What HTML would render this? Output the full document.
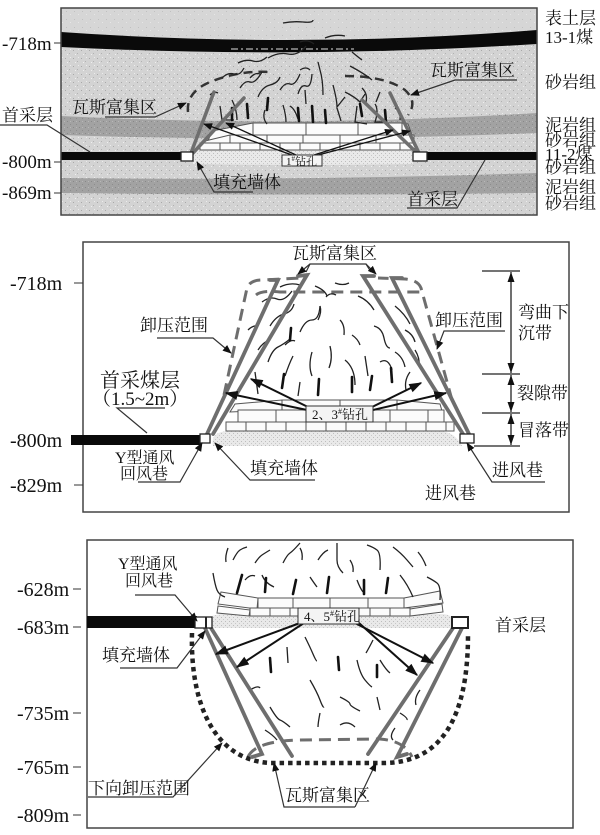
<!DOCTYPE html>
<html><head><meta charset="utf-8"><style>
html,body{margin:0;padding:0;background:#fff;}
svg{display:block;}
text{font-family:"Liberation Serif","Noto Serif CJK SC",serif;fill:#111;}
</style></head><body>
<svg width="600" height="835" viewBox="0 0 600 835" xmlns="http://www.w3.org/2000/svg">
<defs>
<pattern id="sand" width="8" height="8" patternUnits="userSpaceOnUse"><rect width="8" height="8" fill="#d3d3d3"/><rect x="1" y="2" width="1" height="1" fill="#a8a8a8"/><rect x="5" y="5" width="1" height="1" fill="#b2b2b2"/><rect x="3" y="6" width="1" height="1" fill="#efefef"/><rect x="6" y="1" width="1" height="1" fill="#ececec"/></pattern>
<pattern id="soil" width="8" height="8" patternUnits="userSpaceOnUse"><rect width="8" height="8" fill="#d6d6d6"/><rect x="2" y="3" width="1" height="1" fill="#c0c0c0"/><rect x="6" y="6" width="1" height="1" fill="#e6e6e6"/></pattern>
<pattern id="mud" width="6" height="6" patternUnits="userSpaceOnUse"><rect width="6" height="6" fill="#a2a2a2"/><rect x="1" y="1" width="1" height="1" fill="#888"/><rect x="4" y="4" width="1" height="1" fill="#8d8d8d"/><rect x="4" y="1" width="1" height="1" fill="#b8b8b8"/></pattern>
<pattern id="fill" width="4" height="4" patternUnits="userSpaceOnUse"><rect width="4" height="4" fill="#e9e9e9"/><rect x="1" y="1" width="1" height="1" fill="#bdbdbd"/><rect x="3" y="3" width="1" height="1" fill="#c8c8c8"/></pattern>
<marker id="ah" viewBox="0 0 10 10" refX="9" refY="5" markerWidth="9" markerHeight="9" markerUnits="userSpaceOnUse" orient="auto"><path d="M0,1 L10,5 L0,9 z" fill="#111"/></marker>
<marker id="ab" viewBox="0 0 10 10" refX="9" refY="5" markerWidth="13" markerHeight="13" markerUnits="userSpaceOnUse" orient="auto"><path d="M0,1.5 L10,5 L0,8.5 z" fill="#111"/></marker>
<marker id="dim" viewBox="0 0 10 10" refX="10" refY="5" markerWidth="10" markerHeight="10" markerUnits="userSpaceOnUse" orient="auto-start-reverse"><path d="M0,1.5 L10,5 L0,8.5 z" fill="#111"/></marker>
<clipPath id="c1"><rect x="61" y="8" width="476" height="207"/></clipPath>
</defs>

<!-- ============ TOP PANEL ============ -->
<g clip-path="url(#c1)">
<rect x="61" y="8" width="476" height="207" fill="url(#sand)"/>
<path d="M61,8 L537,8 L537,30 Q300,49 61,32 Z" fill="url(#soil)"/>
<path d="M61,32 Q300,49 537,30 L537,44 Q300,59 61,47 Z" fill="#0a0a0a"/>
<path d="M231,49 L354,49" stroke="#ddd" stroke-width="1" stroke-dasharray="7 3 2 3"/>
<path d="M61,116 Q300,128 537,113 L537,133 Q300,143 61,135 Z" fill="url(#mud)"/>
<path d="M61,178 Q300,181 537,173 L537,193 Q300,196 61,193 Z" fill="url(#mud)"/>
<rect x="61" y="152" width="122" height="8" fill="#0a0a0a"/>
<rect x="427" y="152" width="110" height="8" fill="#0a0a0a"/>
<path d="M193,150 L413,150 L413,164 Q300,166 193,164 Z" fill="url(#fill)"/>
</g>
<rect x="61" y="8" width="476" height="207" fill="none" stroke="#444" stroke-width="1.5"/>
<!-- bricks top -->
<g fill="#fbfbfb" stroke="#555" stroke-width="1">
<polygon points="212,131 253,123 253,135 208,141"/>
<rect x="253" y="123" width="53" height="12"/><rect x="306" y="123" width="52" height="12"/><rect x="358" y="123" width="44" height="12"/>
<polygon points="402,123 408,124 412,135 402,135"/>
<polygon points="205,141 230,135 230,143 202,146"/>
<rect x="230" y="135" width="37" height="8"/><rect x="267" y="135" width="36" height="8"/><rect x="303" y="135" width="37" height="8"/><rect x="340" y="135" width="36" height="8"/><rect x="376" y="135" width="38" height="8"/>
<rect x="200" y="143" width="20" height="7"/><rect x="220" y="143" width="20" height="7"/><rect x="240" y="143" width="20" height="7"/><rect x="260" y="143" width="20" height="7"/><rect x="280" y="143" width="20" height="7"/><rect x="300" y="143" width="20" height="7"/><rect x="320" y="143" width="20" height="7"/><rect x="340" y="143" width="20" height="7"/><rect x="360" y="143" width="20" height="7"/><rect x="380" y="143" width="20" height="7"/><rect x="400" y="143" width="15" height="7"/>
</g>
<!-- dashed dome top -->
<path d="M188,112 Q186,92 210,82 Q240,70 270,72" fill="none" stroke="#333" stroke-width="2.5" stroke-dasharray="9 6"/>
<path d="M345,76 Q385,76 405,90 Q418,102 408,115" fill="none" stroke="#333" stroke-width="2.5" stroke-dasharray="9 6"/>
<!-- cracks top -->
<g fill="none" stroke="#222" stroke-width="1.3">
<path d="M222,78 q6,-6 12,-4 t10,-6"/><path d="M240,88 q5,-8 10,-6 t12,-10"/><path d="M258,97 q4,-10 12,-12 t10,-8"/><path d="M280,90 q5,-8 10,-6 t10,-10"/><path d="M298,94 q3,-10 8,-8 t6,-12"/>
<path d="M318,62 l2,8 q3,10 3,25"/><path d="M305,90 l1,14"/><path d="M333,85 q4,15 4,22 l8,-10"/><path d="M345,92 q10,5 15,10 l5,-8"/><path d="M350,66 q15,8 22,14"/>
<path d="M220,106 l2,14 l12,0"/><path d="M232,100 q5,10 5,20"/><path d="M283,105 q3,10 3,17"/><path d="M290,106 q5,3 8,13"/><path d="M337,108 l4,13"/><path d="M357,106 l-2,16 l12,2"/><path d="M375,104 q4,6 0,18 l12,0"/><path d="M395,108 q6,4 5,12"/>
<path d="M268,58 q10,-6 20,-4 t18,-8"/><path d="M300,42 q8,-3 14,2"/><path d="M325,38 q10,-4 20,-2"/><path d="M238,63 q8,-4 15,-2 t14,-4"/><path d="M283,23 q10,-2 20,-1 t10,-2"/><path d="M352,52 q6,5 10,8"/><path d="M265,110 q-3,8 2,14"/>
<path d="M250,78 q5,-6 10,-4"/><path d="M362,88 q6,6 4,14"/><path d="M380,92 l-4,10"/><path d="M210,95 q4,-4 8,-2"/><path d="M300,70 q6,-4 10,0"/>
</g>
<g stroke="#111" stroke-width="2.6" stroke-linecap="round">
<path d="M247,104 l1,14"/><path d="M268,98 l-1,12"/><path d="M312,106 l1,16"/><path d="M325,110 l1,13"/><path d="M360,104 l2,12"/><path d="M385,110 l1,12"/><path d="M232,108 l0,12"/><path d="M298,108 l1,13"/>
</g>
<!-- drill lines top -->
<g stroke="#6e6e6e" stroke-width="3.5" stroke-linecap="round">
<path d="M191,153 L214,92"/><path d="M193,153 L244,98"/><path d="M417,153 L362,100"/><path d="M419,153 L390,93"/>
</g>
<g stroke="#111" stroke-width="1.3" fill="none">
<path d="M292,155 L204,124" marker-end="url(#ah)"/><path d="M296,155 L226,123" marker-end="url(#ah)"/>
<path d="M314,155 L393,130" marker-end="url(#ah)"/><path d="M318,155 L410,131" marker-end="url(#ah)"/>
</g>
<rect x="181" y="152" width="12" height="9" fill="#fff" stroke="#222" stroke-width="1.3"/>
<rect x="413" y="152" width="14" height="9" fill="#fff" stroke="#222" stroke-width="1.3"/>
<rect x="282" y="155" width="40" height="11" fill="#f4f4f4" stroke="#333" stroke-width="1"/>
<text x="286" y="165" font-size="11">1<tspan font-size="7" dy="-4">#</tspan><tspan dy="4">钻孔</tspan></text>
<!-- top labels -->
<g font-size="19">
<text x="2" y="50">-718m</text><text x="2" y="168">-800m</text><text x="2" y="199">-869m</text>
</g>
<g stroke="#333" stroke-width="1"><path d="M54,43 H61"/><path d="M54,162 H61"/><path d="M54,193 H61"/></g>
<g font-size="17">
<text x="545" y="24">表土层</text><text x="545" y="43">13-1煤</text><text x="545" y="88">砂岩组</text>
<text x="545" y="131">泥岩组</text><text x="545" y="146">砂岩组</text><text x="545" y="160">11-2煤</text><text x="545" y="173">砂岩组</text><text x="545" y="193">泥岩组</text><text x="545" y="209">砂岩组</text>
<text x="72" y="113">瓦斯富集区</text><text x="430" y="76">瓦斯富集区</text>
<text x="2" y="121">首采层</text><text x="213" y="188">填充墙体</text><text x="407" y="205">首采层</text>
</g>
<g stroke="#333" stroke-width="1.2" fill="none">
<path d="M105,117 L155,117 L186,103" marker-end="url(#ah)"/>
<path d="M517,80 L455,80 L411,95" marker-end="url(#ah)"/>
<path d="M0,125 L47,125 L90,152"/>
<path d="M253,192 L214,192 L197,162" marker-end="url(#ah)"/>
<path d="M407,208 L457,208 L485,160"/>
</g>

<!-- ============ MIDDLE PANEL ============ -->
<rect x="83" y="242" width="486" height="270" fill="#fff" stroke="#444" stroke-width="1.5"/>
<rect x="71" y="435" width="131" height="10" fill="#0a0a0a"/>
<path d="M213,446 Q210,432 228,431 L440,431 Q455,432 462,446 Z" fill="url(#fill)"/>
<!-- bricks mid -->
<g fill="#fbfbfb" stroke="#555" stroke-width="1">
<polygon points="235,404 282,400 282,410 230,412"/>
<rect x="282" y="400" width="58" height="10"/><rect x="340" y="400" width="57" height="10"/>
<polygon points="397,400 440,404 442,411 397,410"/>
<rect x="238" y="410" width="38" height="12"/><rect x="276" y="410" width="38" height="12"/><rect x="314" y="410" width="38" height="12"/><rect x="352" y="410" width="38" height="12"/><rect x="390" y="410" width="38" height="12"/><rect x="428" y="410" width="16" height="12"/>
<rect x="226" y="422" width="20" height="9"/><rect x="246" y="422" width="20" height="9"/><rect x="266" y="422" width="20" height="9"/><rect x="286" y="422" width="20" height="9"/><rect x="306" y="422" width="20" height="9"/><rect x="326" y="422" width="20" height="9"/><rect x="346" y="422" width="20" height="9"/><rect x="366" y="422" width="20" height="9"/><rect x="386" y="422" width="20" height="9"/><rect x="406" y="422" width="20" height="9"/><rect x="426" y="422" width="20" height="9"/><rect x="446" y="422" width="8" height="9"/>
</g>
<!-- dashed envelope mid -->
<g fill="none" stroke="#6e6e6e" stroke-width="3" stroke-dasharray="12 7">
<path d="M224,395 L247,288 Q250,280 262,280 L300,278"/>
<path d="M452,400 L421,288 Q418,280 405,279 L378,278"/>
<path d="M256,295 Q262,290 280,292 L420,292"/>
</g>
<!-- cracks mid -->
<g fill="none" stroke="#222" stroke-width="1.3">
<path d="M262,302 q8,-6 15,-3 t15,-8"/><path d="M280,287 q10,-5 20,-2"/><path d="M315,286 q10,4 12,10"/><path d="M335,283 q8,3 14,0"/>
<path d="M270,326 q6,-10 14,-12 t10,-10"/><path d="M300,332 q5,-12 12,-12 t8,-14"/><path d="M320,306 q2,6 -2,14"/><path d="M326,297 q4,-5 10,-2"/><path d="M340,320 q5,5 4,15"/><path d="M358,296 q10,4 16,14"/><path d="M374,326 q8,2 10,12 t6,10"/><path d="M395,306 q10,8 15,18"/>
<path d="M268,362 q4,-12 10,-15 t12,-8"/><path d="M285,376 q4,-12 8,-20"/><path d="M312,352 q-4,14 0,24"/><path d="M330,346 q3,12 -1,22"/><path d="M345,360 q10,8 10,25"/><path d="M365,356 l3,20"/><path d="M380,362 q8,-5 12,8"/><path d="M395,352 q8,5 10,15"/><path d="M410,372 q-6,8 -4,18"/><path d="M255,372 l3,22"/><path d="M300,382 l-2,14"/><path d="M248,330 q5,-5 10,-4"/><path d="M405,330 q8,4 10,12"/>
<path d="M258,350 q5,-8 12,-10"/><path d="M352,335 q6,4 8,10"/><path d="M285,345 q6,-6 10,-4"/><path d="M415,350 q5,8 4,16"/>
</g>
<g stroke="#111" stroke-width="2.6" stroke-linecap="round">
<path d="M282,388 l2,-14"/><path d="M318,395 l1,-16"/><path d="M352,392 l0,-15"/><path d="M370,390 l2,-14"/><path d="M290,340 l1,-12"/><path d="M392,382 l-1,-14"/>
</g>
<!-- drill lines mid -->
<g stroke="#6e6e6e" stroke-width="3.8" stroke-linecap="round" fill="none">
<path d="M207,434 L278,280 L270,280"/><path d="M213,434 L307,275 L298,276"/>
<path d="M463,434 L363,276 L374,276"/><path d="M469,434 L392,278 L402,278"/>
</g>
<g stroke="#111" stroke-width="2" fill="none">
<path d="M307,410 L226,393" marker-end="url(#ab)"/><path d="M310,408 L251,379" marker-end="url(#ab)"/>
<path d="M370,408 L421,383" marker-end="url(#ab)"/><path d="M373,410 L446,393" marker-end="url(#ab)"/>
</g>
<rect x="200" y="434" width="10" height="9" fill="#fff" stroke="#222" stroke-width="1.3"/>
<rect x="460" y="434" width="14" height="9" fill="#fff" stroke="#222" stroke-width="1.3"/>
<rect x="306" y="406" width="67" height="16" fill="#f4f4f4" stroke="#333" stroke-width="1"/>
<text x="312" y="419" font-size="13">2、3<tspan font-size="8" dy="-5">#</tspan><tspan dy="5">钻孔</tspan></text>
<!-- dimension -->
<g stroke="#222" stroke-width="1.2">
<path d="M482,271 H520"/><path d="M482,374 H520"/><path d="M482,413 H520"/><path d="M474,446 H520"/>
</g>
<g stroke="#111" stroke-width="1.2" fill="none">
<path d="M511,272 L511,373" marker-start="url(#dim)" marker-end="url(#dim)"/>
<path d="M511,375 L511,412" marker-start="url(#dim)" marker-end="url(#dim)"/>
<path d="M511,414 L511,445" marker-start="url(#dim)" marker-end="url(#dim)"/>
</g>
<g font-size="20">
<text x="10" y="290">-718m</text><text x="10" y="447">-800m</text><text x="10" y="492">-829m</text>
</g>
<g stroke="#333" stroke-width="1"><path d="M74,283 H83"/><path d="M74,485 H83"/></g>
<g font-size="17">
<text x="292" y="259">瓦斯富集区</text>
<text x="140" y="331">卸压范围</text><text x="435" y="326">卸压范围</text>
<text x="518" y="318">弯曲下</text><text x="518" y="339">沉带</text><text x="517" y="399">裂隙带</text><text x="518" y="436">冒落带</text>
<text x="250" y="474">填充墙体</text>
<text x="492" y="476">进风巷</text><text x="425" y="499">进风巷</text>
</g>
<text x="100" y="387" font-size="20">首采煤层</text>
<text x="92" y="405" font-size="19">（1.5~2m）</text>
<text x="115" y="463" font-size="16">Y型通风</text>
<text x="120" y="479" font-size="16">回风巷</text>
<g stroke="#333" stroke-width="1.2" fill="none">
<path d="M306,272 L310,264 L366,264 L371,272" />
<path d="M310,264 L298,274" marker-end="url(#ah)"/><path d="M366,264 L376,274" marker-end="url(#ah)"/>
<path d="M157,338 L213,338 L231,353" marker-end="url(#ah)"/>
<path d="M505,331 L444,331 L437,349" marker-end="url(#ah)"/>
<path d="M165,408 L117,408 L147,433"/>
<path d="M138,482 L180,482 L202,443" marker-end="url(#ah)"/>
<path d="M315,480 L250,480 L215,443" marker-end="url(#ah)"/>
<path d="M545,482 L492,482 L467,443" marker-end="url(#ah)"/>
</g>

<!-- ============ BOTTOM PANEL ============ -->
<rect x="87" y="540" width="486" height="288" fill="#fff" stroke="#444" stroke-width="1.5"/>
<rect x="87" y="616" width="110" height="12" fill="#0a0a0a"/>
<path d="M212,628 L212,616 Q220,613 232,614 L440,614 Q450,614 452,618 L452,628 Z" fill="url(#fill)"/>
<!-- bricks bottom -->
<g fill="#fbfbfb" stroke="#555" stroke-width="1">
<polygon points="221,592 258,598 257,609 218,604"/>
<polygon points="218,606 250,610 249,616 217,613"/>
<rect x="258" y="598" width="35" height="10"/><rect x="293" y="598" width="37" height="10"/><rect x="330" y="598" width="38" height="10"/><rect x="368" y="598" width="36" height="10"/>
<polygon points="404,598 440,591 443,603 404,608"/>
<polygon points="410,609 442,604 443,612 410,616"/>
<rect x="250" y="608" width="20" height="8"/><rect x="270" y="608" width="20" height="8"/><rect x="290" y="608" width="20" height="8"/><rect x="310" y="608" width="20" height="8"/><rect x="330" y="608" width="20" height="8"/><rect x="350" y="608" width="20" height="8"/><rect x="370" y="608" width="20" height="8"/><rect x="390" y="608" width="20" height="8"/>
</g>
<!-- cracks bottom -->
<g fill="none" stroke="#222" stroke-width="1.3">
<path d="M213,573 q2,12 4,17 t8,7"/><path d="M233,560 q4,-8 7,-10 t7,-3"/><path d="M255,563 q4,-6 7,-8 t8,-5"/><path d="M262,575 q3,8 12,12"/><path d="M283,563 q4,-8 7,-10 t10,-10"/><path d="M310,577 q4,6 7,10"/><path d="M337,543 q0,10 0,17 t6,13"/><path d="M357,580 q3,8 6,12"/><path d="M367,545 q6,2 10,5 t3,20"/><path d="M393,547 q8,6 14,13 t6,7"/><path d="M400,575 q8,10 13,22"/><path d="M427,577 q6,3 10,6 t3,17"/><path d="M228,548 q-3,8 -2,14"/><path d="M300,548 q3,5 2,12"/>
<path d="M245,580 q5,-6 10,-4"/><path d="M318,560 q5,-8 10,-10"/><path d="M350,560 q4,6 3,12"/><path d="M418,552 q5,6 8,14"/>
<path d="M287,647 l1,16"/><path d="M305,637 q5,10 8,17 t4,7"/><path d="M357,660 q3,14 8,20 t7,7"/><path d="M373,640 q-4,8 -7,13"/><path d="M380,660 q6,10 10,13"/><path d="M310,680 q7,12 10,20 t4,7"/><path d="M340,697 q10,5 10,7 t10,7"/><path d="M377,697 l3,13"/><path d="M270,707 q7,12 10,13 t10,7"/><path d="M400,713 q8,5 7,7"/><path d="M320,713 q-2,10 -2,14"/><path d="M250,690 q8,-5 10,-2"/><path d="M420,690 q-6,8 -4,15"/><path d="M340,725 q8,-5 15,2"/><path d="M265,730 q8,5 12,10"/><path d="M395,728 q-6,8 -2,12"/>
</g>
<g stroke="#111" stroke-width="2.6" stroke-linecap="round">
<path d="M237,593 l5,-18"/><path d="M265,592 l1,-14"/><path d="M293,594 l3,-14"/><path d="M327,593 l2,-16"/><path d="M364,594 l0,-14"/><path d="M386,593 l2,-15"/><path d="M270,658 l1,14"/><path d="M338,657 l1,13"/><path d="M377,665 l0,12"/>
</g>
<!-- gas zone dashed arc bottom -->
<path d="M248,757 Q255,741 300,740 L380,739 Q405,741 412,757" fill="none" stroke="#6e6e6e" stroke-width="3" stroke-dasharray="12 7"/>
<!-- dotted U -->
<path d="M192,633 C190,705 215,760 270,763 L385,763 C440,762 468,720 468,635" fill="none" stroke="#222" stroke-width="4.5" stroke-dasharray="4.5 4"/>
<!-- drill lines bottom -->
<g stroke="#6e6e6e" stroke-width="3.8" stroke-linecap="round" fill="none">
<path d="M205,628 L262,754 L252,757"/><path d="M211,628 L292,756"/>
<path d="M453,628 L368,754"/><path d="M462,628 L397,757 L407,754"/>
</g>
<g stroke="#111" stroke-width="2" fill="none">
<path d="M300,623 L216,654" marker-end="url(#ab)"/><path d="M304,623 L237,667" marker-end="url(#ab)"/>
<path d="M355,623 L433,663" marker-end="url(#ab)"/><path d="M359,623 L417,675" marker-end="url(#ab)"/>
</g>
<rect x="195" y="617" width="17" height="11" fill="#fff" stroke="#222" stroke-width="1.3"/>
<path d="M206,617 V628" stroke="#222" stroke-width="2"/>
<rect x="452" y="617" width="16" height="11" fill="#fff" stroke="#222" stroke-width="2"/>
<rect x="298" y="608" width="61" height="16" fill="#f4f4f4" stroke="#333" stroke-width="1"/>
<text x="304" y="621" font-size="13">4、5<tspan font-size="8" dy="-5">#</tspan><tspan dy="5">钻孔</tspan></text>
<g font-size="20">
<text x="17" y="596">-628m</text><text x="17" y="634">-683m</text><text x="17" y="720">-735m</text><text x="17" y="774">-765m</text><text x="17" y="822">-809m</text>
</g>
<g stroke="#333" stroke-width="1"><path d="M73,589 H81"/><path d="M73,627 H81"/><path d="M73,713 H81"/><path d="M73,767 H81"/><path d="M73,815 H81"/></g>
<text x="118" y="569" font-size="16">Y型通风</text>
<text x="125" y="586" font-size="16">回风巷</text>
<g font-size="17">
<text x="102" y="661">填充墙体</text>
<text x="88" y="794">下向卸压范围</text>
<text x="285" y="801">瓦斯富集区</text>
<text x="495" y="631">首采层</text>
</g>
<g stroke="#333" stroke-width="1.2" fill="none">
<path d="M135,595 L175,595 L197,621" marker-end="url(#ah)"/>
<path d="M120,668 L177,668 L205,631" marker-end="url(#ah)"/>
<path d="M88,797 L173,797 L222,743" marker-end="url(#ah)"/>
<path d="M355,807 L284,807 L274,763" marker-end="url(#ah)"/>
<path d="M355,807 L376,763" marker-end="url(#ah)"/>
</g>
</svg>
</body></html>
